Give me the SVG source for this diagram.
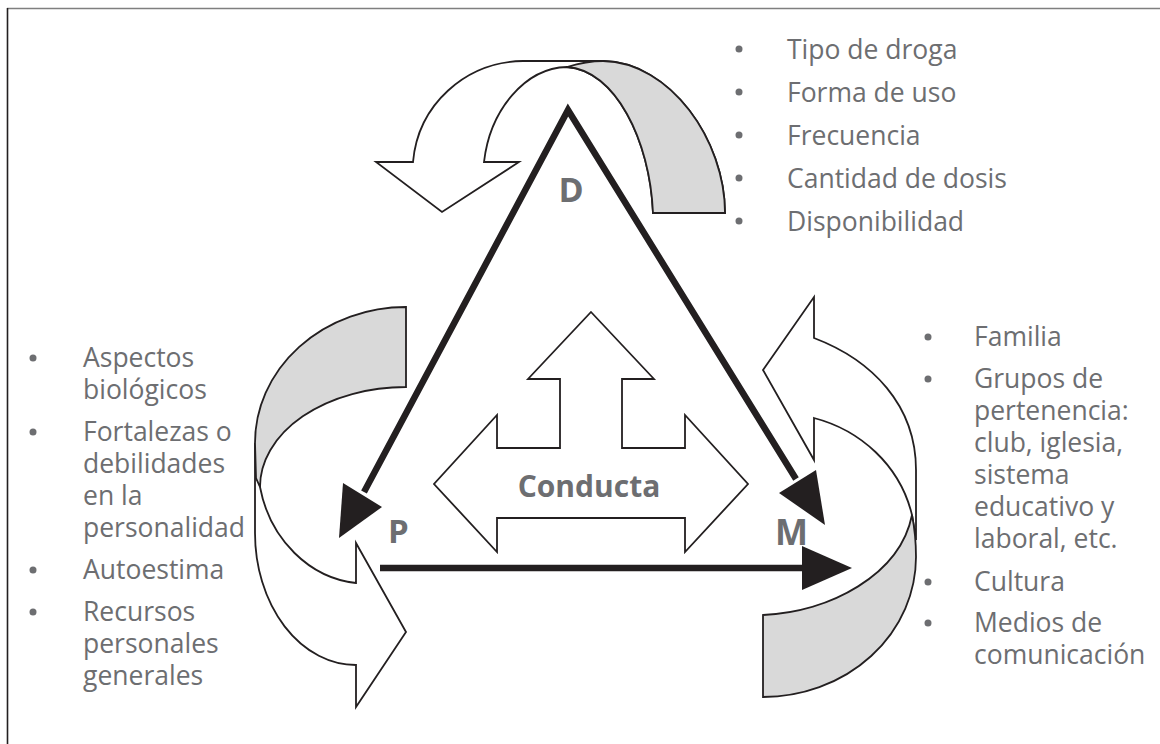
<svg xmlns="http://www.w3.org/2000/svg" width="1160" height="744" viewBox="0 0 1160 744">
<style>
.rib{fill:#ffffff;stroke:#231f20;stroke-width:1.8;stroke-linejoin:miter}
.gry{fill:#d9d9d9;stroke:#231f20;stroke-width:1.8}
.lbl{font-family:"Open Sans","Noto Sans",sans-serif;font-weight:bold;fill:#6d6e71}
.txt{font-family:"Open Sans","Noto Sans",sans-serif;font-size:26.5px;fill:#6d6e71}
.bul{fill:#6d6e71}
.edge{fill:none;stroke:#231f20;stroke-width:6.5}
.head{fill:#231f20}
</style>
<rect x="0" y="0" width="1160" height="744" fill="#ffffff"/>
<line x1="7" y1="8.5" x2="1160" y2="8.5" stroke="#7f7f7f" stroke-width="1.6"/>
<line x1="7.5" y1="8" x2="7.5" y2="744" stroke="#231f20" stroke-width="1.6"/>

<g id="ribbon-D">
<path class="rib" d="M376,162 L413,162 C418,105 465,62 523,61 L603,61 C670,62 725,140 725,213 L653,213 C650,140 615,70 567,67 C525,68 490,110 484,162 L519,162 L442,212 Z"/>
<path class="gry" d="M567,67 C580,63 592,61 603,61 C670,62 725,140 725,213 L653,213 C650,140 615,70 567,67 Z"/>
</g>
<g id="ribbon-P">
<path class="rib" d="M255,443 L255,533 A101,132 0 0 0 356,665 L356,707 L406,632 L356,543 L356,583 C310,578 270,540 260,487 Z"/>
<path class="gry" d="M406,307 A151,136 0 0 0 255,443 L256,478 L260,487 A146,100 0 0 1 406,387 Z"/>
</g>
<g id="ribbon-M">
<path class="rib" d="M763,370 L814,297 L814,338 C872,360 916,405 916,470 L916,540 L912,515 C900,465 860,430 814,418 L814,460 Z"/>
<path class="gry" d="M763,615 C830,612 900,575 912,515 C915,530 916,545 916,557 A153,140 0 0 1 763,697 Z"/>
</g>

<g id="conducta">
<polygon class="rib" points="591,312 654,379 622,379 622,448 685,448 685,415 748,484 685,552 685,518 497,518 497,552 434,484 497,415 497,448 560,448 560,379 528,379"/>
<text class="lbl" x="589" y="497" font-size="30" text-anchor="middle">Conducta</text>
</g>

<g id="connectors">
<path class="edge" d="M364,492 L568,110 L796,479" stroke-linejoin="miter"/>
<line class="edge" x1="380" y1="568" x2="806" y2="568"/>
<polygon class="head" points="339,538 343,483 382,507"/>
<polygon class="head" points="825,525 779,493 816,470"/>
<polygon class="head" points="852,568 802,546 802,590"/>
</g>

<g id="node-D">
<text class="lbl" x="571" y="202" font-size="34" text-anchor="middle">D</text>
</g>
<g id="node-P">
<text class="lbl" x="388" y="543" font-size="33">P</text>
</g>
<g id="node-M">
<text class="lbl" x="775" y="545" font-size="35">M</text>
</g>

<g id="list-D">
<circle class="bul" cx="739" cy="49" r="3.5"/>
<circle class="bul" cx="739" cy="92" r="3.5"/>
<circle class="bul" cx="739" cy="135" r="3.5"/>
<circle class="bul" cx="739" cy="178" r="3.5"/>
<circle class="bul" cx="739" cy="221" r="3.5"/>
<text class="txt" x="787" y="59">Tipo de droga</text>
<text class="txt" x="787" y="102">Forma de uso</text>
<text class="txt" x="787" y="145">Frecuencia</text>
<text class="txt" x="787" y="188">Cantidad de dosis</text>
<text class="txt" x="787" y="231">Disponibilidad</text>
</g>

<g id="list-P">
<circle class="bul" cx="33" cy="358" r="3.5"/>
<circle class="bul" cx="33" cy="432" r="3.5"/>
<circle class="bul" cx="33" cy="570" r="3.5"/>
<circle class="bul" cx="33" cy="612" r="3.5"/>
<text class="txt" x="83" y="367">Aspectos<tspan x="83" dy="32">biológicos</tspan></text>
<text class="txt" x="83" y="441">Fortalezas o<tspan x="83" dy="32">debilidades</tspan><tspan x="83" dy="32">en la</tspan><tspan x="83" dy="32">personalidad</tspan></text>
<text class="txt" x="83" y="579">Autoestima</text>
<text class="txt" x="83" y="621">Recursos<tspan x="83" dy="32">personales</tspan><tspan x="83" dy="32">generales</tspan></text>
</g>

<g id="list-M">
<circle class="bul" cx="928" cy="337" r="3.5"/>
<circle class="bul" cx="928" cy="379" r="3.5"/>
<circle class="bul" cx="928" cy="582" r="3.5"/>
<circle class="bul" cx="928" cy="623" r="3.5"/>
<text class="txt" x="974" y="346">Familia</text>
<text class="txt" x="974" y="388">Grupos de<tspan x="974" dy="32">pertenencia:</tspan><tspan x="974" dy="32">club, iglesia,</tspan><tspan x="974" dy="32">sistema</tspan><tspan x="974" dy="32">educativo y</tspan><tspan x="974" dy="32">laboral, etc.</tspan></text>
<text class="txt" x="974" y="591">Cultura</text>
<text class="txt" x="974" y="632">Medios de<tspan x="974" dy="32">comunicación</tspan></text>
</g>
</svg>
